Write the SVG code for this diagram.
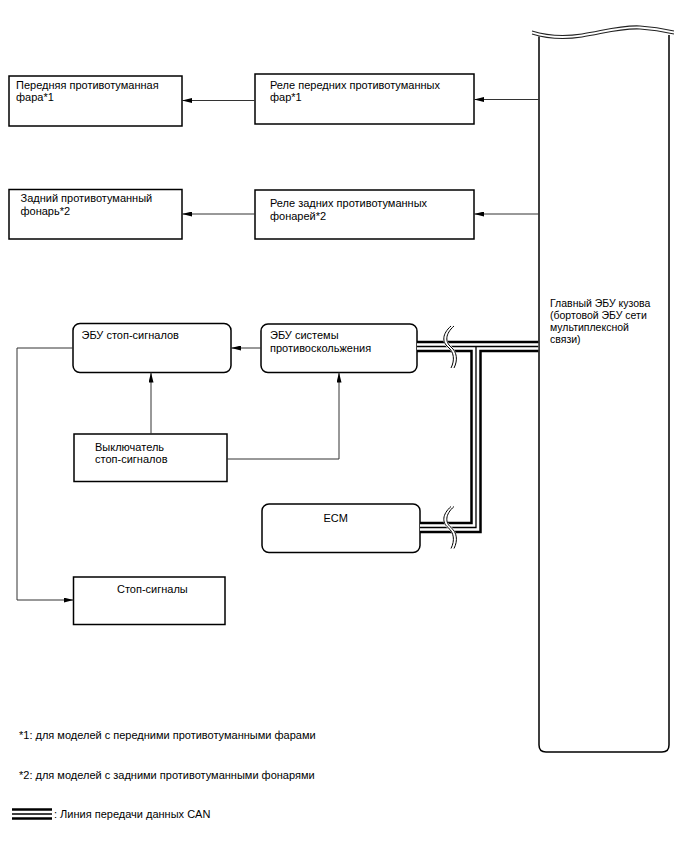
<svg xmlns="http://www.w3.org/2000/svg" width="688" height="852" viewBox="0 0 688 852">
<style>
text{font-family:"Liberation Sans",Arial,sans-serif;font-size:11px;fill:#000}
.sm{font-size:10.5px}
.box{fill:#fff;stroke:#000;stroke-width:1.5}
.con{fill:none;stroke:#333;stroke-width:1}
.canO{fill:none;stroke:#000;stroke-width:11.5;stroke-linejoin:miter}
.canW{fill:none;stroke:#fff;stroke-width:6.5;stroke-linejoin:miter}
.canC{fill:none;stroke:#000;stroke-width:1.3;stroke-linejoin:miter}
.brkW{fill:none;stroke:#fff;stroke-width:4}
.brk{fill:none;stroke:#000;stroke-width:1}
</style>
<defs>
<marker id="arr" viewBox="0 0 10 5" markerWidth="10" markerHeight="5" refX="10" refY="2.5" orient="auto" markerUnits="userSpaceOnUse">
<path d="M0,0 L10,2.5 L0,5 z" fill="#000"/>
</marker>
<path id="brkS" d="M0,0 C-9,8 -9,16 -3,21 C3,26 4,34 0,42"/>
</defs>
<rect width="688" height="852" fill="#fff"/>

<g id="main-ecu">
<path d="M539,36.5 V745 Q539,752 546,752 H662 Q669,752 669,745 V35" fill="#fff" stroke="#000" stroke-width="1.5"/>
<path d="M532,31 C548,36 562,37 582,34 C602,31 620,25 640,26 C655,27 665,29 674,31" fill="none" stroke="#222" stroke-width="1.1"/>
<path d="M532,34 C548,39 562,40 582,37 C602,34 620,28 640,29 C655,30 665,32 674,34" fill="none" stroke="#222" stroke-width="1.1"/>
<text class="sm" x="550" y="307">Главный ЭБУ кузова</text>
<text class="sm" x="550" y="319">(бортовой ЭБУ сети</text>
<text class="sm" x="550" y="331">мультиплексной</text>
<text class="sm" x="550" y="343">связи)</text>
</g>

<g id="front-fog">
<rect class="box" x="9" y="76" width="173" height="50"/>
<text x="16" y="89">Передняя противотуманная</text>
<text x="16" y="100.5">фара*1</text>
</g>
<g id="rear-fog">
<rect class="box" x="9" y="189.5" width="173" height="49.5"/>
<text x="20.5" y="201.5">Задний противотуманный</text>
<text x="20.5" y="215">фонарь*2</text>
</g>
<g id="front-relay">
<rect class="box" x="255" y="74" width="219" height="50"/>
<text x="270" y="89">Реле передних противотуманных</text>
<text x="270" y="100.5">фар*1</text>
</g>
<g id="rear-relay">
<rect class="box" x="255" y="190" width="219" height="49"/>
<text x="270" y="207">Реле задних противотуманных</text>
<text x="270" y="219.5">фонарей*2</text>
</g>
<g id="stop-ecu">
<rect class="box" x="73" y="323.5" width="158" height="49" rx="7"/>
<text x="81.5" y="339">ЭБУ стоп-сигналов</text>
</g>
<g id="skid-ecu">
<rect class="box" x="261" y="324" width="156" height="48.5" rx="7"/>
<text x="270" y="339">ЭБУ системы</text>
<text x="270" y="351.5">противоскольжения</text>
</g>
<g id="stop-switch">
<rect class="box" x="74" y="434" width="153" height="47.5"/>
<text x="95" y="450.5">Выключатель</text>
<text x="95" y="463">стоп-сигналов</text>
</g>
<g id="ecm">
<rect class="box" x="262" y="504" width="158" height="48.5" rx="7"/>
<text x="323.5" y="522">ECM</text>
</g>
<g id="stop-lights">
<rect class="box" x="73.5" y="577" width="151.5" height="47.5"/>
<text x="117" y="593">Стоп-сигналы</text>
</g>

<g id="connectors">
<path class="con" d="M539,99.5 H474" marker-end="url(#arr)"/>
<path class="con" d="M255,100.5 H182" marker-end="url(#arr)"/>
<path class="con" d="M539,214 H474" marker-end="url(#arr)"/>
<path class="con" d="M255,214 H182" marker-end="url(#arr)"/>
<path class="con" d="M261,348 H231" marker-end="url(#arr)"/>
<path class="con" d="M151,434 V372.5" marker-end="url(#arr)"/>
<path class="con" d="M227,459 H339 V372.5" marker-end="url(#arr)"/>
<path class="con" d="M73,348 H17 V600 H73.5" marker-end="url(#arr)"/>

<g id="can-bus">
<path class="canO" d="M417,346.5 H538.3"/>
<path class="canO" d="M476,346.5 V527.5 H420"/>
<path class="canW" d="M417,346.5 H538.3"/>
<path class="canW" d="M476,346.5 V527.5 H420"/>
<path class="canC" d="M417,346.5 H538.3"/>
<path class="canC" d="M476,346.5 V527.5 H420"/>
<g transform="translate(451,326)">
<use href="#brkS" class="brkW" transform="translate(1.5,0)"/>
<use href="#brkS" class="brk"/>
<use href="#brkS" class="brk" transform="translate(3,0)"/>
</g>
<g transform="translate(451,506.5)">
<use href="#brkS" class="brkW" transform="translate(1.5,0)"/>
<use href="#brkS" class="brk"/>
<use href="#brkS" class="brk" transform="translate(3,0)"/>
</g>
</g>
</g>

<g id="notes">
<text x="19" y="738.5">*1: для моделей с передними противотуманными фарами</text>
<text x="19" y="778.5">*2: для моделей с задними противотуманными фонарями</text>
<g id="legend-symbol">
<path class="canO" d="M12,814 H52"/>
<path class="canW" d="M12,814 H52"/>
<path class="canC" d="M12,814 H52"/>
</g>
<text x="54" y="817.5">: Линия передачи данных CAN</text>
</g>
</svg>
